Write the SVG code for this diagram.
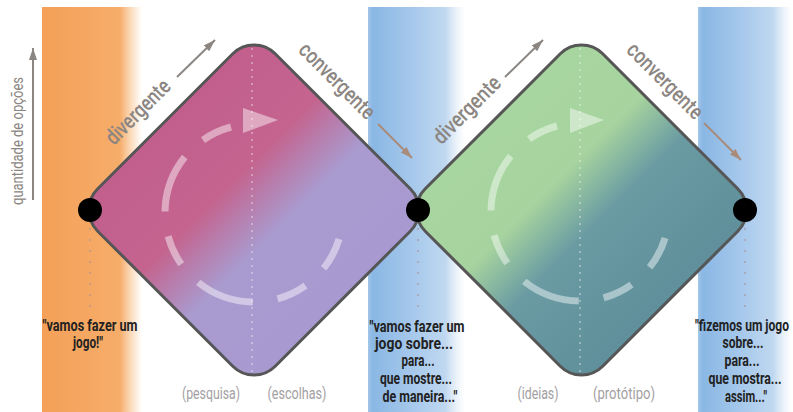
<svg xmlns="http://www.w3.org/2000/svg" width="793" height="412" viewBox="0 0 793 412">
<style>
.lbl{font-family:Roboto,"Liberation Sans",sans-serif;}
.dir{font-size:22px;font-weight:500;fill:#8c8682;text-anchor:middle;}
.axis{font-size:17px;fill:#8c8682;text-anchor:middle;}
.quote{font-size:17px;fill:#222;font-weight:bold;text-anchor:middle;}
.phase{font-size:17px;fill:#a3a0a3;text-anchor:middle;}
.diamond{stroke:#565656;stroke-width:3;}
.loop{fill:none;stroke:#fff;stroke-opacity:0.45;stroke-width:7;stroke-dasharray:31 25 59 25;}
.head{fill:#fff;fill-opacity:0.45;}
.vdot{stroke:#fff;stroke-opacity:0.45;stroke-width:1.5;stroke-dasharray:2 5;}
.pdot{stroke:#a89098;stroke-opacity:0.55;stroke-width:2;stroke-dasharray:2 9;}
.arr{stroke:#8c8682;stroke-width:2;fill:none;}
.arrb{stroke:#a88b7b;stroke-width:2;fill:none;}
</style>
<defs>
<linearGradient id="gOrange" x1="0" y1="0" x2="1" y2="0">
<stop offset="0" stop-color="#f4a058"/>
<stop offset="0.78" stop-color="#f6ad6a"/>
<stop offset="1" stop-color="#f8c08a" stop-opacity="0"/>
</linearGradient>
<linearGradient id="gBlue" x1="0" y1="0" x2="1" y2="0">
<stop offset="0" stop-color="#8ab7e3" stop-opacity="0.8"/>
<stop offset="0.05" stop-color="#8ab7e4"/>
<stop offset="0.5" stop-color="#a9caec"/>
<stop offset="0.8" stop-color="#c0d8f0"/>
<stop offset="1" stop-color="#dce9f7" stop-opacity="0"/>
</linearGradient>
<linearGradient id="gD1" gradientUnits="userSpaceOnUse" x1="-125.5" y1="0" x2="125.5" y2="0">
<stop offset="0" stop-color="#c25f8d"/>
<stop offset="0.36" stop-color="#c4648f"/>
<stop offset="0.62" stop-color="#a99bcf"/>
<stop offset="1" stop-color="#a89ad0"/>
</linearGradient>
<linearGradient id="gD2" gradientUnits="userSpaceOnUse" x1="-125.5" y1="0" x2="125.5" y2="0">
<stop offset="0" stop-color="#a8d6a0"/>
<stop offset="0.35" stop-color="#a6d39e"/>
<stop offset="0.58" stop-color="#6a9ba3"/>
<stop offset="1" stop-color="#5f909b"/>
</linearGradient>
<marker id="ah" viewBox="0 0 12 8" refX="12" refY="4" markerWidth="12" markerHeight="8" markerUnits="userSpaceOnUse" orient="auto">
<path d="M0,0 L12,4 L0,8 z" fill="#8c8682"/>
</marker>
<marker id="ahb" viewBox="0 0 12 8" refX="12" refY="4" markerWidth="12" markerHeight="8" markerUnits="userSpaceOnUse" orient="auto">
<path d="M0,0 L12,4 L0,8 z" fill="#a88b7b"/>
</marker>
</defs>

<g id="bands">
<rect x="42" y="7" width="100" height="405" fill="url(#gOrange)"/>
<rect x="368" y="7" width="97" height="405" fill="url(#gBlue)"/>
<rect x="698" y="7" width="94" height="405" fill="url(#gBlue)"/>
</g>

<g id="diamond-1">
<rect class="diamond" x="-125.5" y="-125.5" width="251" height="251" rx="30" fill="url(#gD1)" transform="translate(254,210) rotate(45)"/>
<line class="vdot" x1="252" y1="48" x2="252" y2="372"/>
<path class="loop" d="M231,127 A89,89 0 1 0 339.1,239"/>
<polygon class="head" points="243,108 243,133 278,120"/>
</g>

<g id="diamond-2">
<rect class="diamond" x="-125.5" y="-125.5" width="251" height="251" rx="30" fill="url(#gD2)" transform="translate(581.5,210) rotate(45)"/>
<line class="vdot" x1="580" y1="48" x2="580" y2="372"/>
<path class="loop" d="M557,126 A89,89 0 1 0 665.1,238"/>
<polygon class="head" points="570,108 570,133 604,120"/>
</g>

<g id="milestone-start">
<line class="pdot" x1="90" y1="228" x2="90" y2="316"/>
<circle cx="90" cy="210" r="12" fill="#000"/>
<text class="lbl quote" x="90" y="331" textLength="95" lengthAdjust="spacingAndGlyphs">"vamos fazer um</text>
<text class="lbl quote" x="88" y="348" textLength="30" lengthAdjust="spacingAndGlyphs">jogo!"</text>
</g>

<g id="milestone-mid">
<line class="pdot" x1="418" y1="228" x2="418" y2="316"/>
<circle cx="418" cy="210" r="12" fill="#000"/>
<text class="lbl quote" x="417" y="332" textLength="95" lengthAdjust="spacingAndGlyphs">"vamos fazer um</text>
<text class="lbl quote" x="414" y="349" textLength="78" lengthAdjust="spacingAndGlyphs">jogo sobre...</text>
<text class="lbl quote" x="418" y="366" textLength="33" lengthAdjust="spacingAndGlyphs">para...</text>
<text class="lbl quote" x="416" y="384" textLength="72" lengthAdjust="spacingAndGlyphs">que mostre...</text>
<text class="lbl quote" x="420" y="402" textLength="75" lengthAdjust="spacingAndGlyphs">de maneira..."</text>
</g>

<g id="milestone-end">
<line class="pdot" x1="745" y1="228" x2="745" y2="316"/>
<circle cx="745" cy="210" r="12" fill="#000"/>
<text class="lbl quote" x="742" y="331" textLength="94" lengthAdjust="spacingAndGlyphs">"fizemos um jogo</text>
<text class="lbl quote" x="743" y="348" textLength="41" lengthAdjust="spacingAndGlyphs">sobre...</text>
<text class="lbl quote" x="742" y="366" textLength="35" lengthAdjust="spacingAndGlyphs">para...</text>
<text class="lbl quote" x="745" y="384" textLength="73" lengthAdjust="spacingAndGlyphs">que mostra...</text>
<text class="lbl quote" x="746" y="402" textLength="42" lengthAdjust="spacingAndGlyphs">assim..."</text>
</g>

<g id="phase-labels">
<text class="lbl phase" x="211" y="399" textLength="58" lengthAdjust="spacingAndGlyphs">(pesquisa)</text>
<text class="lbl phase" x="297" y="399" textLength="59" lengthAdjust="spacingAndGlyphs">(escolhas)</text>
<text class="lbl phase" x="538" y="399" textLength="41" lengthAdjust="spacingAndGlyphs">(ideias)</text>
<text class="lbl phase" x="624" y="399" textLength="62" lengthAdjust="spacingAndGlyphs">(protótipo)</text>
</g>

<g id="direction-labels">
<text class="lbl dir" transform="translate(143,117) rotate(-45)" textLength="82" lengthAdjust="spacingAndGlyphs">divergente</text>
<text class="lbl dir" transform="translate(332,86) rotate(45)" textLength="98" lengthAdjust="spacingAndGlyphs">convergente</text>
<text class="lbl dir" transform="translate(472,115) rotate(-45)" textLength="86" lengthAdjust="spacingAndGlyphs">divergente</text>
<text class="lbl dir" transform="translate(660,86) rotate(45)" textLength="98" lengthAdjust="spacingAndGlyphs">convergente</text>
<text class="lbl axis" transform="translate(23,141) rotate(-90)" textLength="128" lengthAdjust="spacingAndGlyphs">quantidade de opções</text>
</g>

<g id="connectors">
<line class="arr" x1="33" y1="200" x2="33" y2="48" marker-end="url(#ah)"/>
<line class="arr" x1="177" y1="77" x2="215" y2="40" marker-end="url(#ah)"/>
<line class="arrb" x1="378" y1="124" x2="412" y2="158" marker-end="url(#ahb)"/>
<line class="arr" x1="505" y1="77" x2="543" y2="40" marker-end="url(#ah)"/>
<line class="arrb" x1="704" y1="123" x2="741" y2="160" marker-end="url(#ahb)"/>
</g>
</svg>
